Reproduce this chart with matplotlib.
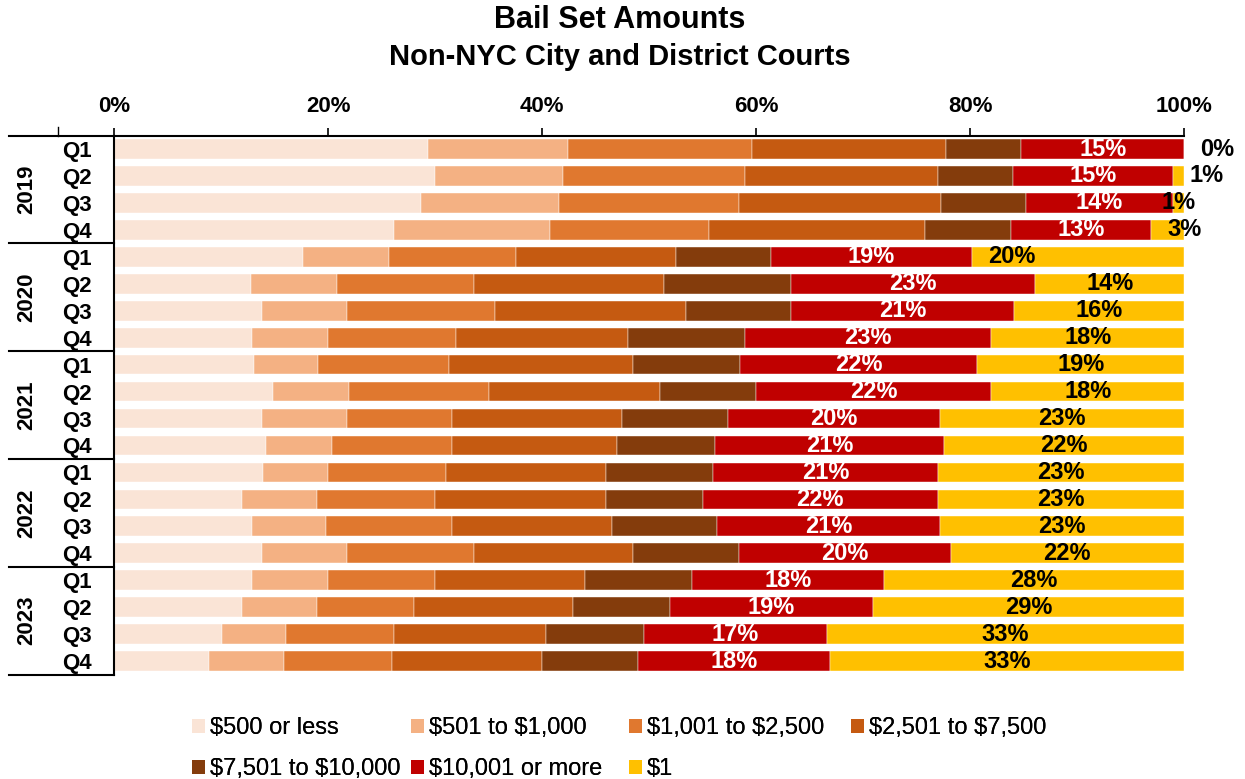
"""stacked bar chart of bail set amounts by quarter"""
import matplotlib
matplotlib.use("Agg")
import matplotlib.pyplot as plt
import matplotlib.transforms as mtransforms
from matplotlib.patches import Patch

plt.rcParams['font.family'] = ['Liberation Sans', 'DejaVu Sans']

years = ["2019", "2020", "2021", "2022", "2023"]
quarters = ["Q1", "Q2", "Q3", "Q4"]

series_names = [r"\$500 or less", r"\$501 to \$1,000", r"\$1,001 to \$2,500", r"\$2,501 to \$7,500",
                r"\$7,501 to \$10,000", r"\$10,001 or more", r"\$1"]
series_colors = ["#FAE4D6", "#F4B183", "#E0782F", "#C55A11", "#843C0C", "#C00000", "#FFC000"]

# percent of bail set, one value per quarter (2019 Q1 .. 2023 Q4)
under_500 = [29.3, 30.0, 28.7, 26.2, 17.7, 12.8, 13.8, 12.9, 13.1, 14.9,
             13.8, 14.2, 13.9, 12.0, 12.9, 13.8, 12.9, 12.0, 10.1, 8.9]
b501_1000 = [13.1, 12.0, 12.9, 14.5, 8.0, 8.0, 8.0, 7.1, 6.0, 7.1,
             8.0, 6.2, 6.1, 7.0, 6.9, 8.0, 7.1, 7.0, 6.0, 7.0]
b1001_2500 = [17.2, 17.0, 16.8, 14.9, 11.9, 12.8, 13.8, 12.0, 12.2, 13.0,
              9.8, 11.2, 11.0, 11.0, 11.8, 11.8, 10.0, 9.0, 10.1, 10.1]
b2501_7500 = [18.2, 18.0, 18.9, 20.2, 14.9, 17.8, 17.9, 16.0, 17.2, 16.0,
              15.9, 15.4, 15.0, 16.0, 14.9, 14.9, 14.0, 14.9, 14.2, 14.0]
b7501_10000 = [7.0, 7.0, 7.9, 8.0, 8.9, 11.9, 9.8, 11.0, 10.0, 9.0,
               9.9, 9.2, 10.0, 9.0, 9.9, 9.9, 10.0, 9.1, 9.1, 9.0]
over_10000 = [15.2, 15.0, 13.8, 13.1, 18.8, 22.8, 20.8, 23.0, 22.2, 22.0,
              19.8, 21.4, 21.0, 22.0, 20.8, 19.8, 18.0, 18.9, 17.1, 17.9]
one_dollar = [0.0, 1.0, 1.0, 3.1, 19.8, 13.9, 15.9, 18.0, 19.3, 18.0,
              22.8, 22.4, 23.0, 23.0, 22.8, 21.8, 28.0, 29.1, 33.4, 33.1]

series = [under_500, b501_1000, b1001_2500, b2501_7500, b7501_10000, over_10000, one_dollar]

# hand-moved $1 labels in the original (row index -> shift in percent points)
one_dollar_nudge = {0: 3.1, 1: 2.6, 3: 1.6, 4: -6.2}

n = len(under_500)
rows = list(range(n))

fig = plt.figure(figsize=(12.45, 7.79), dpi=100)
ax = fig.add_axes([0.0916, 0.1341, 0.8594, 0.6919])

left = [0.0] * n
for vals, color, name in zip(series, series_colors, series_names):
    ax.barh(rows, vals, left=left, height=0.73, color=color, label=name,
            edgecolor="white", linewidth=0.3)
    left = [l + v for l, v in zip(left, vals)]

# data labels for the last two series
start_red = [sum(s[i] for s in series[:5]) for i in rows]
for i in rows:
    xr = start_red[i] + over_10000[i] / 2
    ax.text(xr, i, f"{over_10000[i]:.0f}%", ha="center", va="center",
            color="white", fontsize=17, fontweight="bold")
    x1 = start_red[i] + over_10000[i] + one_dollar[i] / 2 + one_dollar_nudge.get(i, 0)
    ax.text(x1, i, f"{one_dollar[i]:.0f}%", ha="center", va="center",
            color="black", fontsize=17, fontweight="bold", clip_on=False)

ax.set_xlim(0, 100)
ax.set_ylim(n - 0.5, -0.5)
ax.xaxis.tick_top()
ax.set_xticks([0, 20, 40, 60, 80, 100])
ax.set_xticklabels([f"{t}%" for t in [0, 20, 40, 60, 80, 100]])
ax.tick_params(axis="x", direction="out", length=6, width=1.2, pad=7,
               labelsize=16)
for lab in ax.get_xticklabels():
    lab.set_fontweight("bold")

ax.set_yticks(rows)
ax.set_yticklabels(quarters * len(years))
ax.tick_params(axis="y", length=0, pad=16, labelsize=16)
for lab in ax.get_yticklabels():
    lab.set_fontweight("bold")

ax.spines["right"].set_visible(False)
ax.spines["bottom"].set_visible(False)
ax.spines["top"].set_linewidth(1.5)
ax.spines["left"].set_linewidth(1.5)

# year group labels and separators
trans = mtransforms.blended_transform_factory(ax.transAxes, ax.transData)
for k, yr in enumerate(years):
    ax.text(-0.082, 4 * k + 1.5, yr, transform=trans, rotation=90,
            ha="center", va="center", fontsize=16, fontweight="bold")
for k in range(len(years) + 1):
    yb = 4 * k - 0.5
    ax.plot([-0.098, 0], [yb, yb], transform=trans, color="black",
            lw=1.5, clip_on=False)
ax.plot([-0.052, -0.052], [-0.5, -0.8], transform=trans, color="black",
        lw=1, clip_on=False)

fig.text(0.498, 0.974, "Bail Set Amounts", ha="center", va="center",
         fontsize=22, fontweight="bold")
fig.text(0.498, 0.927, "Non-NYC City and District Courts", ha="center", va="center",
         fontsize=21, fontweight="bold")

handles = [Patch(facecolor=c, label=s) for c, s in zip(series_colors, series_names)]
# one small legend per column so the columns sit where the original has them
legend_cols = [[0, 4], [1, 5], [2, 6], [3]]
col_x = [192, 411, 629, 851]
for idx, xpix in zip(legend_cols, col_x):
    leg = fig.legend(handles=[handles[k] for k in idx], ncol=1, loc="upper left",
                     bbox_to_anchor=(xpix / 1245, 0.079),
                     frameon=False, fontsize=17, handlelength=0.55, handleheight=0.55,
                     handletextpad=0.2, labelspacing=0.8,
                     borderpad=0, borderaxespad=0)
    fig.add_artist(leg)

fig.savefig("out.png", dpi=100)
